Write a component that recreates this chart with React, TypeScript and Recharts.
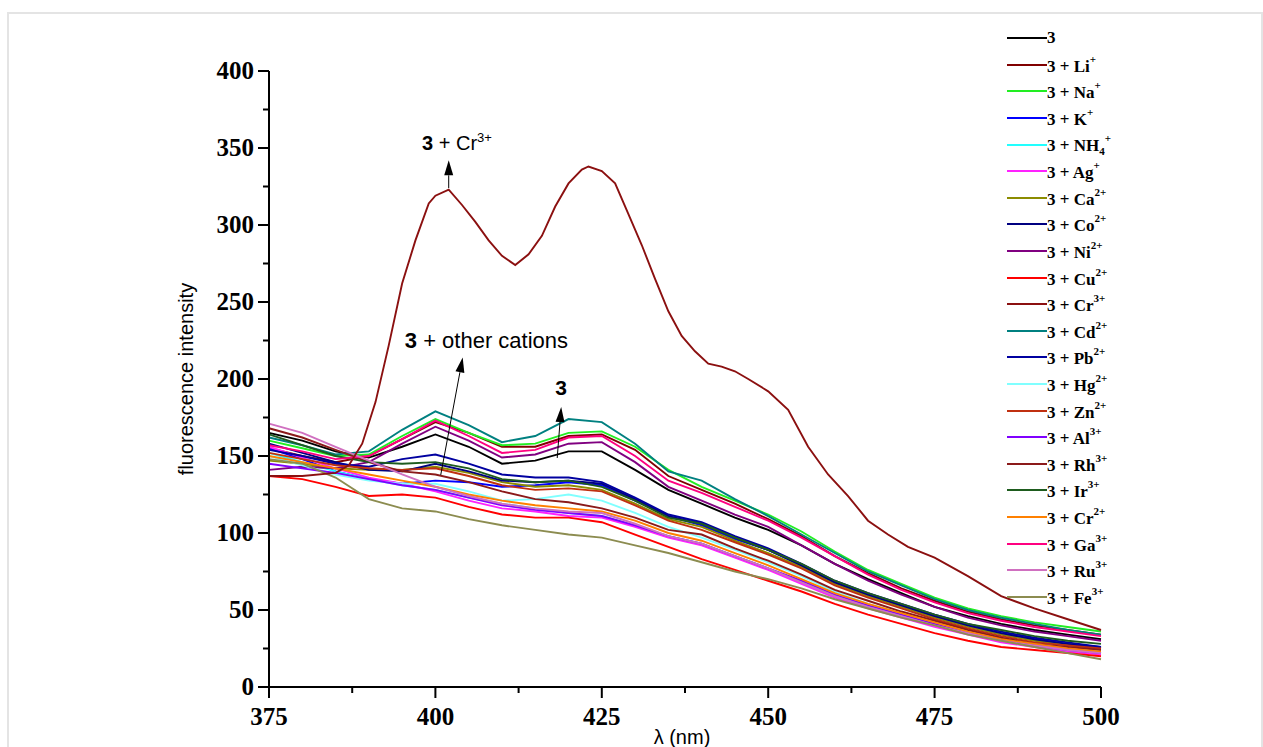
import React from 'react';
import { LineChart, Line, XAxis, YAxis, ReferenceLine, ReferenceDot, Label } from 'recharts';

// emission spectra, 375-500 nm every 5 nm
const wavelengths = [375, 380, 385, 390, 395, 400, 405, 410, 415, 420, 425, 430, 435, 440, 445, 450, 455, 460, 465, 470, 475, 480, 485, 490, 495, 500];

const ligand = [165, 160, 153, 149, 156, 164, 156, 145, 147, 153, 153, 141, 128, 119, 110, 102, 92, 80, 70, 61, 52, 46, 41, 37, 34, 31];
const withLi = [155, 150, 146, 150, 161, 172, 165, 156, 156, 163, 164, 154, 137, 128, 119, 109, 98, 85, 74, 64, 56, 49, 44, 40, 37, 34];
const withNa = [160, 155, 150, 151, 163, 174, 165, 157, 158, 165, 166, 156, 141, 130, 121, 112, 101, 88, 76, 67, 58, 51, 46, 42, 39, 36];
const withK = [155, 148, 140, 135, 132, 134, 133, 130, 131, 133, 131, 121, 111, 105, 96, 89, 79, 68, 60, 53, 46, 40, 35, 31, 28, 26];
const withNH4 = [152, 146, 140, 135, 131, 128, 123, 119, 116, 113, 111, 105, 98, 93, 85, 77, 68, 59, 52, 46, 40, 35, 30, 27, 24, 22];
const withAg = [156, 149, 142, 136, 132, 127, 121, 116, 114, 111, 110, 104, 97, 92, 84, 76, 67, 58, 51, 45, 39, 34, 29, 26, 23, 21];
const withCa = [147, 145, 142, 141, 141, 143, 139, 133, 130, 131, 128, 119, 109, 104, 95, 87, 78, 67, 59, 52, 45, 39, 34, 30, 27, 25];
const withCo = [158, 152, 146, 141, 140, 145, 140, 134, 133, 134, 132, 122, 111, 106, 97, 89, 79, 68, 60, 53, 46, 40, 35, 31, 28, 25];
const withNi = [141, 143, 142, 146, 158, 169, 160, 149, 151, 158, 159, 146, 130, 121, 112, 104, 92, 80, 69, 60, 52, 45, 40, 36, 33, 30];
const withCu = [137, 135, 130, 124, 125, 123, 117, 112, 110, 110, 107, 99, 91, 83, 76, 69, 62, 54, 47, 41, 35, 30, 26, 24, 22, 20];
const withCd = [162, 157, 151, 153, 167, 179, 170, 159, 163, 174, 172, 158, 140, 134, 122, 111, 99, 87, 75, 66, 57, 50, 45, 41, 37, 34];
const withPb = [154, 150, 145, 143, 148, 151, 145, 138, 136, 136, 133, 123, 112, 107, 98, 90, 80, 69, 61, 54, 47, 41, 36, 32, 29, 26];
const withHg = [150, 144, 138, 134, 132, 132, 127, 121, 122, 125, 121, 113, 104, 97, 89, 81, 72, 62, 54, 48, 42, 36, 31, 27, 25, 23];
const withZn = [152, 148, 144, 142, 141, 142, 137, 131, 128, 129, 127, 118, 108, 102, 94, 86, 77, 66, 58, 51, 44, 38, 33, 29, 27, 25];
const withAl = [145, 142, 139, 135, 131, 128, 123, 118, 115, 113, 111, 105, 98, 93, 85, 77, 69, 60, 53, 47, 41, 35, 31, 27, 24, 22];
const withRh = [168, 162, 154, 146, 140, 138, 133, 127, 122, 120, 116, 110, 102, 99, 90, 82, 73, 63, 56, 49, 43, 37, 32, 28, 26, 24];
const withIr = [164, 157, 150, 146, 145, 146, 142, 135, 133, 134, 130, 121, 110, 106, 97, 89, 80, 69, 61, 54, 47, 41, 37, 33, 30, 28];
const withCr2 = [150, 146, 142, 138, 134, 130, 125, 121, 118, 116, 114, 108, 100, 95, 87, 79, 70, 61, 54, 48, 42, 36, 31, 28, 25, 23];
const withGa = [157, 153, 148, 150, 161, 173, 163, 152, 154, 162, 163, 150, 134, 126, 117, 108, 97, 85, 73, 63, 55, 48, 43, 39, 36, 33];
const withRu = [171, 165, 156, 147, 138, 130, 124, 119, 116, 114, 113, 106, 98, 93, 85, 77, 68, 59, 52, 46, 40, 35, 30, 27, 24, 22];
const withFe = [148, 145, 136, 122, 116, 114, 109, 105, 102, 99, 97, 92, 87, 81, 75, 70, 64, 57, 51, 45, 40, 34, 30, 26, 22, 18];

// the Cr3+ response is read on a finer grid
const crWavelengths = [375, 380, 385, 387, 389, 391, 393, 395, 397, 399, 400, 402, 404, 406, 408, 410, 412, 414, 416, 418, 420, 422, 423, 425, 427, 429, 431, 433, 435, 437, 439, 441, 443, 445, 447, 450, 453, 456, 459, 462, 465, 468, 471, 475, 480, 485, 490, 495, 500];
const crValues = [137, 137, 139, 144, 158, 185, 222, 262, 290, 314, 319, 323, 313, 302, 290, 280, 274, 281, 293, 312, 327, 336, 338, 335, 327, 307, 287, 265, 244, 228, 218, 210, 208, 205, 200, 192, 180, 156, 138, 124, 108, 99, 91, 84, 72, 59, 51, 44, 37];

const yTicks = [0, 25, 50, 75, 100, 125, 150, 175, 200, 225, 250, 275, 300, 325, 350, 375, 400];
const xTicks = [375, 387.5, 400, 412.5, 425, 437.5, 450, 462.5, 475, 487.5, 500];

type Series = { key: string; ion: string; sub?: string; charge: string; color: string; values: number[] };

const series: Series[] = [
  { key: 'free', ion: '', charge: '', color: '#000000', values: ligand },
  { key: 'li', ion: 'Li', charge: '+', color: '#800000', values: withLi },
  { key: 'na', ion: 'Na', charge: '+', color: '#22EE22', values: withNa },
  { key: 'k', ion: 'K', charge: '+', color: '#0000FF', values: withK },
  { key: 'nh4', ion: 'NH', sub: '4', charge: '+', color: '#22FFFF', values: withNH4 },
  { key: 'ag', ion: 'Ag', charge: '+', color: '#FF22FF', values: withAg },
  { key: 'ca', ion: 'Ca', charge: '2+', color: '#8C8C00', values: withCa },
  { key: 'co', ion: 'Co', charge: '2+', color: '#000080', values: withCo },
  { key: 'ni', ion: 'Ni', charge: '2+', color: '#800080', values: withNi },
  { key: 'cu', ion: 'Cu', charge: '2+', color: '#FF0000', values: withCu },
  { key: 'cr3', ion: 'Cr', charge: '3+', color: '#8B1010', values: [] },
  { key: 'cd', ion: 'Cd', charge: '2+', color: '#008080', values: withCd },
  { key: 'pb', ion: 'Pb', charge: '2+', color: '#0000A0', values: withPb },
  { key: 'hg', ion: 'Hg', charge: '2+', color: '#80FFFF', values: withHg },
  { key: 'zn', ion: 'Zn', charge: '2+', color: '#C03010', values: withZn },
  { key: 'al', ion: 'Al', charge: '3+', color: '#8000FF', values: withAl },
  { key: 'rh', ion: 'Rh', charge: '3+', color: '#8B1A1A', values: withRh },
  { key: 'ir', ion: 'Ir', charge: '3+', color: '#1E5C1E', values: withIr },
  { key: 'cr2', ion: 'Cr', charge: '2+', color: '#FF8000', values: withCr2 },
  { key: 'ga', ion: 'Ga', charge: '3+', color: '#FF0080', values: withGa },
  { key: 'ru', ion: 'Ru', charge: '3+', color: '#D070C0', values: withRu },
  { key: 'fe', ion: 'Fe', charge: '3+', color: '#8C8C50', values: withFe },
];

const cluster = series.filter((s) => s.key !== 'cr3');
const crColor = series.find((s) => s.key === 'cr3')!.color;

const table = wavelengths.map((wl, i) => {
  const row: Record<string, number> = { wl };
  cluster.forEach((s) => {
    row[s.key] = s.values[i];
  });
  return row;
});
const crData = crWavelengths.map((wl, i) => ({ wl, cr3: crValues[i] }));

const serif = '"Liberation Serif", "Times New Roman", serif';
const sans = '"Liberation Sans", Arial, sans-serif';

function YTick(props: any) {
  const { x, y, payload } = props;
  const major = payload.value % 50 === 0;
  return (
    <g>
      <line x1={x - (major ? 11 : 6)} y1={y} x2={x} y2={y} stroke="#000" strokeWidth={2} />
      {major && (
        <text x={x - 15} y={y + 8} textAnchor="end" fontFamily={serif} fontWeight="bold" fontSize={25} fill="#000">
          {payload.value}
        </text>
      )}
    </g>
  );
}

function XTick(props: any) {
  const { x, y, payload } = props;
  const major = (payload.value - 375) % 25 === 0;
  return (
    <g>
      <line x1={x} y1={y} x2={x} y2={y + (major ? 11 : 6)} stroke="#000" strokeWidth={2} />
      {major && (
        <text x={x} y={y + 38} textAnchor="middle" fontFamily={serif} fontWeight="bold" fontSize={25} fill="#000">
          {payload.value}
        </text>
      )}
    </g>
  );
}

function Arrow(props: any) {
  const { x1, y1, x2, y2 } = props;
  const dx = x2 - x1;
  const dy = y2 - y1;
  const len = Math.hypot(dx, dy) || 1;
  const ux = dx / len;
  const uy = dy / len;
  const head = 15;
  const half = 4.5;
  const bx = x2 - ux * head;
  const by = y2 - uy * head;
  return (
    <g>
      <line x1={x1} y1={y1} x2={bx} y2={by} stroke="#000" strokeWidth={1} />
      <polygon
        points={`${x2},${y2} ${bx - uy * half},${by + ux * half} ${bx + uy * half},${by - ux * half}`}
        fill="#000"
      />
    </g>
  );
}

function Legend() {
  return (
    <div style={{ position: 'absolute', left: 1007, top: 25, fontFamily: serif, fontWeight: 'bold', fontSize: 17, color: '#000' }}>
      {series.map((s) => (
        <div key={s.key} style={{ height: 26.6, display: 'flex', alignItems: 'center' }}>
          <div style={{ width: 40, height: 2, background: s.color }} />
          <span style={{ whiteSpace: 'nowrap' }}>
            3{s.ion ? ' + ' + s.ion : ''}
            {s.sub && <sub style={{ fontSize: 11 }}>{s.sub}</sub>}
            {s.charge && <sup style={{ fontSize: 11, verticalAlign: 9 }}>{s.charge}</sup>}
          </span>
        </div>
      ))}
    </div>
  );
}

export default function App() {
  return (
    <div style={{ position: 'absolute', left: 0, top: 0, width: 1263, height: 747, overflow: 'hidden', background: '#fff' }}>
      <div style={{ position: 'absolute', left: 7, top: 12, width: 1252, height: 760, border: '2px solid #e4e4e4' }} />
      <LineChart
        width={1263}
        height={747}
        data={table}
        margin={{ top: 71, right: 162, bottom: 10, left: 189 }}
        style={{ position: 'absolute', left: 0, top: 0 }}
      >
        <XAxis
          dataKey="wl"
          type="number"
          domain={[375, 500]}
          ticks={xTicks}
          interval={0}
          height={50}
          tickSize={0}
          tickMargin={0}
          tickLine={false}
          tick={<XTick />}
          axisLine={{ stroke: '#000', strokeWidth: 2 }}
        >
          <Label
            content={(p: any) => (
              <text x={p.viewBox.x + p.viewBox.width / 2 - 3} y={p.viewBox.y + 57} textAnchor="middle" fontFamily={sans} fontSize={20} fill="#000">
                λ (nm)
              </text>
            )}
          />
        </XAxis>
        <YAxis
          type="number"
          domain={[0, 400]}
          ticks={yTicks}
          interval={0}
          width={80}
          tickSize={0}
          tickMargin={0}
          tickLine={false}
          tick={<YTick />}
          axisLine={{ stroke: '#000', strokeWidth: 2 }}
        >
          <Label
            content={(p: any) => {
              const cx = p.viewBox.x - 3;
              const cy = p.viewBox.y + p.viewBox.height / 2;
              return (
                <text x={cx} y={cy} transform={`rotate(-90 ${cx} ${cy})`} textAnchor="middle" dominantBaseline="central" fontFamily={sans} fontSize={20} fill="#000">
                  fluorescence intensity
                </text>
              );
            }}
          />
        </YAxis>
        {cluster.map((s) => (
          <Line key={s.key} dataKey={s.key} type="linear" stroke={s.color} strokeWidth={1.9} dot={false} activeDot={false} isAnimationActive={false} />
        ))}
        <Line data={crData} dataKey="cr3" type="linear" stroke={crColor} strokeWidth={1.9} dot={false} activeDot={false} isAnimationActive={false} />

        <ReferenceLine segment={[{ x: 402, y: 324 }, { x: 402, y: 342 }]} shape={<Arrow />} />
        <ReferenceLine segment={[{ x: 400.8, y: 137.7 }, { x: 404.1, y: 214 }]} shape={<Arrow />} />
        <ReferenceLine segment={[{ x: 418.3, y: 148.7 }, { x: 418.9, y: 181.8 }]} shape={<Arrow />} />

        <ReferenceDot
          x={398}
          y={349}
          r={0}
          shape={(p: any) => (
            <text x={p.cx} y={p.cy} fontFamily={sans} fontSize={20} fill="#000">
              <tspan fontWeight="bold">3</tspan>
              <tspan> + Cr</tspan>
              <tspan fontSize={13} dy={-8}>3+</tspan>
            </text>
          )}
        />
        <ReferenceDot
          x={395.4}
          y={220}
          r={0}
          shape={(p: any) => (
            <text x={p.cx} y={p.cy} fontFamily={sans} fontSize={22} fill="#000">
              <tspan fontWeight="bold">3</tspan>
              <tspan> + other cations</tspan>
            </text>
          )}
        />
        <ReferenceDot
          x={418.9}
          y={189.6}
          r={0}
          shape={(p: any) => (
            <text x={p.cx} y={p.cy} textAnchor="middle" fontFamily={sans} fontWeight="bold" fontSize={21} fill="#000">
              3
            </text>
          )}
        />
      </LineChart>
      <Legend />
    </div>
  );
}
